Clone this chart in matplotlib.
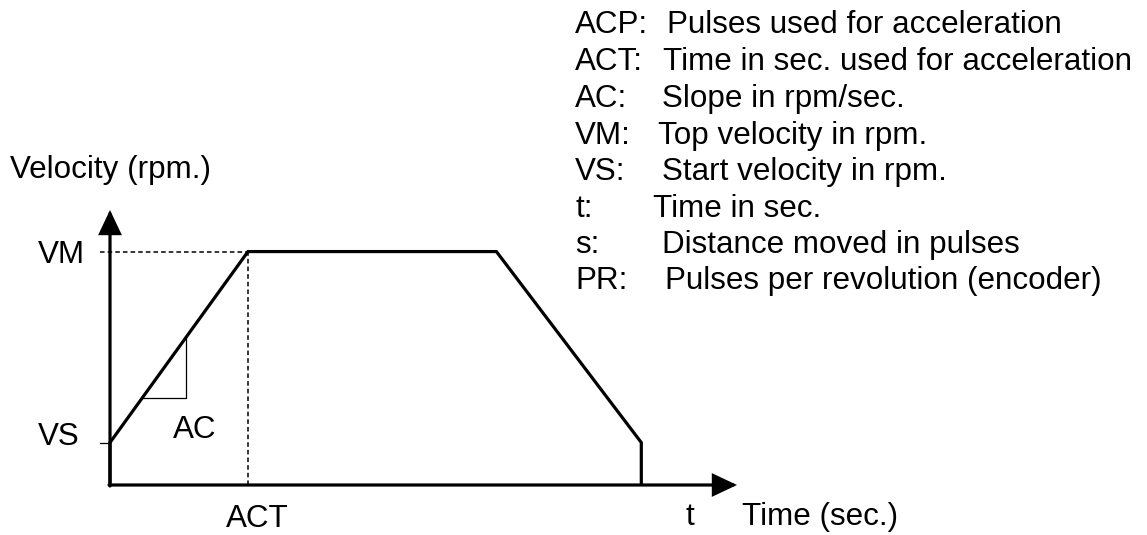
import matplotlib
matplotlib.use("Agg")
import matplotlib.pyplot as plt

# ---- data (time in sec, velocity in rpm) ----
VS = 200
VM = 1100
ACT = 1.0
T_DEC = 2.8
T_END = 3.85
profile_t = [0, 0, ACT, T_DEC, T_END, T_END]
profile_v = [0, VS, VM, VM, VS, 0]
slope_t = [0.232, 0.551]          # where the slope triangle touches the ramp

legend_abbr = ["ACP:", "ACT:", "AC:", "VM:", "VS:", "t:", "s:", "PR:"]
legend_desc = ["Pulses used for acceleration",
               "Time in sec. used for acceleration",
               "Slope in rpm/sec.",
               "Top velocity in rpm.",
               "Start velocity in rpm.",
               "Time in sec.",
               "Distance moved in pulses",
               "Pulses per revolution (encoder)"]

W, H = 1147, 535
FONT = "Liberation Sans"
FS = 22.6

fig = plt.figure(figsize=(W / 100, H / 100), dpi=100)
ax = fig.add_axes([0, 0, 1, 1])
ax.set_axis_off()

# pixel mapping: origin at (110, 485) px, 138 px per sec, 0.2122 px per rpm
px_t, px_v = 138.0, 0.21222
ax.set_xlim(-110 / px_t, (W - 110) / px_t)
ax.set_ylim(-(H - 485) / px_v, 485 / px_v)

LW = 2.3
# axes with arrows
arrow_kw = dict(arrowstyle="-|>,head_length=0.55,head_width=0.26", lw=LW,
                color="black", mutation_scale=26, shrinkA=0, shrinkB=0,
                joinstyle="miter")
ax.annotate("", xy=(627 / px_t, 0), xytext=(-1 / px_t, 0), arrowprops=arrow_kw)
ax.annotate("", xy=(0, 275 / px_v), xytext=(0, -1 / px_v), arrowprops=arrow_kw)

# velocity profile
ax.plot(profile_t, profile_v, color="black", lw=LW, solid_joinstyle="miter",
        solid_capstyle="butt")

# dotted guide lines
ax.plot([-10 / px_t, ACT], [VM, VM], color="black", lw=1.1, ls=(0, (3, 2)))
ax.plot([ACT, ACT], [0, VM], color="black", lw=1.1, ls=(0, (3, 2)))
# VS tick
ax.plot([-10 / px_t, 0], [VS, VS], color="black", lw=0.9)

# slope triangle
def ramp(t):
    return VS + (VM - VS) * t / ACT
t1, t2 = slope_t
ax.plot([t1, t2, t2], [ramp(t1), ramp(t1), ramp(t2)], color="black", lw=0.9)

def txt(x, y, s, ha="left"):
    fig.text(x / W, 1 - y / H, s, ha=ha, va="baseline", fontsize=FS,
             family=FONT, color="black")

txt(10, 178, "Velocity (rpm.)")
txt(85, 263, "VM", ha="right")
txt(80, 445, "VS", ha="right")
txt(173, 438, "AC")
txt(257, 527, "ACT", ha="center")
txt(685, 525, "t")
txt(742, 525, "Time (sec.)")

desc_x = [667, 663, 662, 658, 662, 653, 662, 665]
baselines = [33.3, 70, 106.7, 144, 180, 216.7, 253.3, 289.3]
for a, d, dx, yb in zip(legend_abbr, legend_desc, desc_x, baselines):
    txt(575, yb, a)
    txt(dx, yb, d)

fig.savefig("out.png", dpi=100)
